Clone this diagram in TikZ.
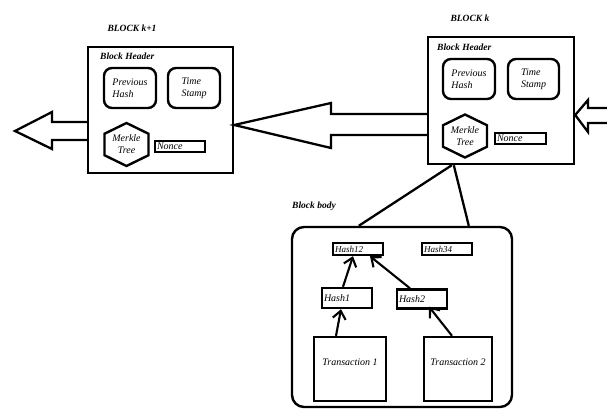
\documentclass[tikz,border=0pt]{standalone}
\usepackage{fontspec}
\setmainfont{Liberation Serif}
\usetikzlibrary{arrows.meta}
\begin{document}
\begin{tikzpicture}[x=1pt,y=-1pt,
  boxline/.style={draw, line width=2.4pt},
  hdrbox/.style={boxline, rectangle},
  fieldbox/.style={boxline, rounded corners=8pt, font=\fontsize{10}{12}\selectfont\itshape, align=left, inner sep=1pt},
  smallbox/.style={boxline, rectangle, inner xsep=2pt, inner ysep=0pt, font=\fontsize{10}{10}\selectfont\itshape, align=left},
  hexlabel/.style={font=\fontsize{10}{12}\selectfont\itshape, align=center, inner sep=0pt},
  title/.style={font=\fontsize{9.5}{10}\selectfont\bfseries\itshape, inner sep=0pt},
  txbox/.style={boxline, rectangle},
  conn/.style={line width=2.3pt},
  bigarrow/.style={line width=2.3pt, line join=miter},
  treearrow/.style={line width=2.1pt, -{Straight Barb[length=8pt,width=13pt,line width=2.1pt]}}
]
\useasboundingbox (0,0) rectangle (607,409);

% ---------- Block k+1 ----------
\node[title] (lblk1) at (132,28) {BLOCK \textit{k}+1};
\node[hdrbox, minimum width=145pt, minimum height=126pt] (hdr1) at (160.5,110) {};
\node[title, anchor=west] (bh1) at (100,56) {Block Header};
\node[fieldbox, minimum width=52pt, minimum height=40pt] (prev1) at (130,88) {Previous\\Hash};
\node[fieldbox, minimum width=52pt, minimum height=40pt] (time1) at (194,88) {Time\\Stamp};
\node[hexlabel] (merkle1) at (126.5,144.5) {Merkle\\Tree};
\draw[boxline] ([yshift=21.5pt]merkle1.center) -- ++(22,10.75) -- ++(0,21.5) -- ++(-22,10.75) -- ++(-22,-10.75) -- ++(0,-21.5) -- cycle;
\node[smallbox, minimum height=11pt, text width=46pt] (nonce1) at (180,146.5) {Nonce};

% ---------- Block k ----------
\node[title] (lblkk) at (470,18) {BLOCK \textit{k}};
\node[hdrbox, minimum width=146pt, minimum height=127pt] (hdrk) at (501,100.5) {};
\node[title, anchor=west] (bhk) at (437,47) {Block Header};
\node[fieldbox, minimum width=52pt, minimum height=40pt] (prevk) at (469,79) {Previous\\Hash};
\node[fieldbox, minimum width=51pt, minimum height=40pt] (timek) at (533.5,79) {Time\\Stamp};
\node[hexlabel] (merklek) at (465,136) {Merkle\\Tree};
\draw[boxline] ([yshift=21.5pt]merklek.center) -- ++(22,10.75) -- ++(0,21.5) -- ++(-22,10.75) -- ++(-22,-10.75) -- ++(0,-21.5) -- cycle;
\node[smallbox, minimum height=11pt, text width=47pt] (noncek) at (520.5,138.5) {Nonce};

% ---------- big block arrows ----------
\coordinate (outtip) at (15,131);
\coordinate (intail) at (607,115);
% Block k+1 -> outside
\draw[bigarrow] ([yshift=-12pt]hdr1.west) -- (52,122) -- (52,112) -- (outtip) -- (52,149) -- (52,140) -- ([yshift=-30pt]hdr1.west);
% Block k -> Block k+1
\draw[bigarrow] ([yshift=-13.5pt]hdrk.west) -- (331,114) -- (331,103) -- ([yshift=-15pt]hdr1.east) -- (331,148) -- (331,135) -- ([yshift=-34.5pt]hdrk.west);
% incoming -> Block k
\draw[bigarrow] ([yshift=7pt]intail) -- (588,108) -- (588,100) -- ([yshift=-14.5pt]hdrk.east) -- (588,132) -- (588,123) -- ([yshift=-8pt]intail);

% ---------- Block body ----------
\node[title, anchor=west] (bodylbl) at (292,206) {Block body};
\node[boxline, rectangle, rounded corners=12pt, minimum width=220pt, minimum height=180pt] (body) at (402,317) {};
\draw[conn] ([xshift=25pt]hdrk.south west) -- ([xshift=68pt]body.north west);
\draw[conn] ([xshift=27pt]hdrk.south west) -- ([xshift=178pt]body.north west);

\node[smallbox, minimum height=12pt, text width=46pt, font=\fontsize{9}{9}\selectfont\itshape] (hash12) at (358,249) {Hash12};
\node[smallbox, minimum height=12pt, text width=46pt, font=\fontsize{9}{9}\selectfont\itshape] (hash34) at (447,249) {Hash34};
\node[smallbox, minimum height=20pt, text width=46pt] (hash1) at (347,298) {Hash1};
\node[smallbox, minimum height=19pt, text width=46pt] (hash2) at (422,299) {Hash2};
\node[txbox, minimum width=72pt, minimum height=64pt,
      label={[yshift=7pt, font=\fontsize{10}{11}\selectfont\itshape]center:Transaction 1}] (tx1) at (350,369) {};
\node[txbox, minimum width=68pt, minimum height=64pt,
      label={[yshift=7pt, font=\fontsize{10}{11}\selectfont\itshape]center:Transaction 2}] (tx2) at (458,369) {};

\draw[treearrow] ([xshift=-4pt]hash1.north) -- ([xshift=-5pt]hash12.south);
\draw[treearrow] ([xshift=-12pt]hash2.north) -- ([xshift=12pt]hash12.south);
\draw[treearrow] ([xshift=-14pt]tx1.north) -- ([xshift=-6pt]hash1.south);
\draw[treearrow] ([xshift=-6pt]tx2.north) -- ([xshift=7pt,yshift=3pt]hash2.south);
\end{tikzpicture}
\end{document}
